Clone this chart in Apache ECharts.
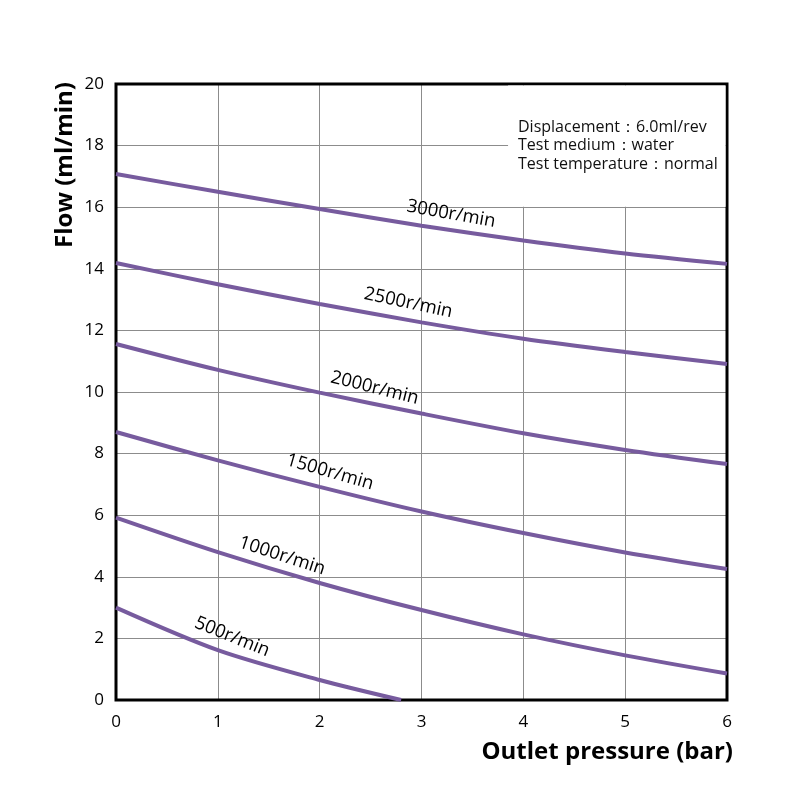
<!DOCTYPE html>
<html>
<head>
<meta charset="utf-8">
<script src="https://cdn.jsdelivr.net/npm/echarts@6/dist/echarts.min.js"></script>
<style>html,body{margin:0;padding:0;background:#fff}#c{width:800px;height:800px}</style>
</head>
<body>
<div id="c"></div>
<script>
// Data
const pressure = [0, 1, 2, 3, 4, 5, 6];
const flow3000 = [17.08, 16.50, 15.94, 15.40, 14.92, 14.50, 14.16];
const flow2500 = [14.19, 13.50, 12.86, 12.26, 11.73, 11.30, 10.91];
const flow2000 = [11.56, 10.72, 9.98, 9.30, 8.66, 8.12, 7.66];
const flow1500 = [8.70, 7.78, 6.92, 6.12, 5.42, 4.79, 4.25];
const flow1000 = [5.92, 4.80, 3.80, 2.92, 2.13, 1.45, 0.86];
const pressure500 = [0, 1, 2, 2.8];
const flow500 = [3.00, 1.62, 0.65, 0];
const curveNames = ['3000r/min', '2500r/min', '2000r/min', '1500r/min', '1000r/min', '500r/min'];
const labelAnchors = [[3.29, 15.78], [2.87, 12.89], [2.54, 10.13], [2.10, 7.40], [1.63, 4.68], [1.14, 2.05]];
const labelAngles = [10, 12, 14, 16, 18, 22];
const noteLines = ['Displacement：6.0ml/rev', 'Test medium：water', 'Test temperature：normal'];
const xTitle = 'Outlet pressure (bar)';
const yTitle = 'Flow (ml/min)';

const chart = echarts.init(document.getElementById('c'), null, {renderer: 'canvas'});
const color = '#775b9e';
const font = '"Open Sans", "Noto Sans", sans-serif';

function pairs(xs, ys) { return xs.map((x, i) => [x, ys[i]]); }
const seriesData = [
  pairs(pressure, flow3000), pairs(pressure, flow2500), pairs(pressure, flow2000),
  pairs(pressure, flow1500), pairs(pressure, flow1000), pairs(pressure500, flow500)
];

const option = {
  backgroundColor: '#fff',
  animation: false,
  grid: {left: 116, right: 73, top: 84, bottom: 100, outerBoundsMode: 'none', containLabel: false,
    show: true, borderColor: '#000', borderWidth: 3, backgroundColor: 'transparent', z: 3},
  xAxis: {
    type: 'value', min: 0, max: 6, interval: 1,
    axisLine: {show: false}, axisTick: {show: false},
    axisLabel: {fontSize: 17, color: '#000', fontFamily: font, margin: 14},
    splitLine: {show: true, lineStyle: {color: '#8c8c8c', width: 1}}
  },
  yAxis: {
    type: 'value', min: 0, max: 20, interval: 2,
    axisLine: {show: false}, axisTick: {show: false},
    axisLabel: {fontSize: 17, color: '#000', fontFamily: font, margin: 12},
    splitLine: {show: true, lineStyle: {color: '#8c8c8c', width: 1}}
  },
  series: seriesData.map((d, i) => ({
    type: 'line', name: curveNames[i], data: d, smooth: 0.3, symbol: 'none', z: 5,
    lineStyle: {color: color, width: 4}
  }))
};
chart.setOption(option);

// Overlay: white note box, curve labels, note text, axis titles
const g = [];
const tl = chart.convertToPixel({gridIndex: 0}, [3.85, 20]);
const br = chart.convertToPixel({gridIndex: 0}, [6, 16]);
g.push({type: 'rect', shape: {x: tl[0], y: tl[1] + 1.5, width: br[0] - tl[0] - 1.5, height: br[1] - tl[1] - 2}, style: {fill: '#fff'}, z: 4, silent: true});
noteLines.forEach((t, i) => {
  g.push({type: 'text', x: 518, y: 127 + i * 18.5, style: {text: t, fontSize: 16, fill: '#111', fontFamily: font, verticalAlign: 'middle', align: 'left'}, z: 10});
});
labelAnchors.forEach((p, i) => {
  const px = chart.convertToPixel({gridIndex: 0}, p);
  g.push({type: 'text', x: px[0], y: px[1], rotation: -labelAngles[i] * Math.PI / 180,
    style: {text: curveNames[i], fontSize: 18.5, fill: '#000', fontFamily: font, align: 'center', verticalAlign: 'middle'}, z: 10});
});
g.push({type: 'text', x: 733, y: 752, style: {text: xTitle, fontSize: 24, fontWeight: 'bold', fill: '#000', fontFamily: font, align: 'right', verticalAlign: 'middle'}, z: 10});
g.push({type: 'text', x: 65, y: 165, rotation: Math.PI / 2, style: {text: yTitle, fontSize: 24, fontWeight: 'bold', fill: '#000', fontFamily: font, align: 'center', verticalAlign: 'middle'}, z: 10});
chart.setOption({graphic: g});
</script>
</body>
</html>
